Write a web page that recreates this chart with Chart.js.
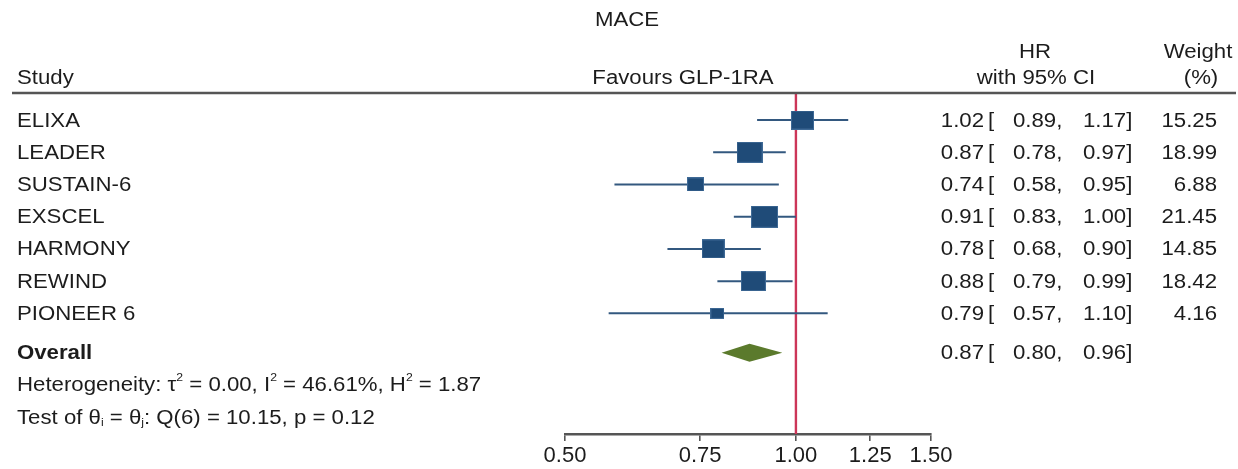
<!DOCTYPE html>
<html>
<head>
<meta charset="utf-8">
<title>MACE forest plot</title>
<script src="https://cdn.jsdelivr.net/npm/chart.js@4.4.1/dist/chart.umd.min.js"></script>
<style>
  html, body { margin: 0; padding: 0; background: #ffffff; }
  #wrap { width: 1238px; height: 469px; position: relative; }
</style>
</head>
<body>
<div id="wrap"><canvas id="forest"></canvas></div>
<script>
// ---- data ----
const plotTitle = 'MACE';
const studies  = ['ELIXA', 'LEADER', 'SUSTAIN-6', 'EXSCEL', 'HARMONY', 'REWIND', 'PIONEER 6'];
const hr       = [1.02, 0.87, 0.74, 0.91, 0.78, 0.88, 0.79];
const ciLow    = [0.89, 0.78, 0.58, 0.83, 0.68, 0.79, 0.57];
const ciHigh   = [1.17, 0.97, 0.95, 1.00, 0.90, 0.99, 1.10];
const weights  = [15.25, 18.99, 6.88, 21.45, 14.85, 18.42, 4.16];
const overallHR   = 0.87;
const overallLow  = 0.80;
const overallHigh = 0.96;
const tau2 = 0.00, iSquared = 46.61, hSquared = 1.87;
const qStat = 10.15, qDf = 6, qP = 0.12;
const tickValues = [0.50, 0.75, 1.00, 1.25, 1.50];

// ---- layout / style ----
const FONT_FAMILY = '"Liberation Sans", Arial, Helvetica, sans-serif';
const FONT = '20px ' + FONT_FAMILY;
const FONT_BOLD = 'bold 20px ' + FONT_FAMILY;
const FONT_SMALL = '11px ' + FONT_FAMILY;
const TEXT_COLOR = '#1c1c1c';
const SX = 1.11;                    // horizontal text stretch
const SQUARE_COLOR = '#1f4b78';
const CI_COLOR = '#33587f';
const NULL_COLOR = '#cc3558';
const DIAMOND_COLOR = '#5b7a2c';
const AXIS_COLOR = '#555555';

const overallRow = studies.length + 0.22;
const hetRow = overallRow + 1;
const testRow = overallRow + 2;

const f2 = v => v.toFixed(2);

// square marker for each study, size growing with its weight
function weightMarker(w) {
  const width = Math.round(3.2 + 5.13 * Math.sqrt(w));
  const height = Math.round(width / 1.22);
  const c = document.createElement('canvas');
  c.width = width; c.height = height;
  const g = c.getContext('2d');
  g.fillStyle = '#3f6a96';
  g.fillRect(0, 0, width, height);
  g.fillStyle = SQUARE_COLOR;
  g.fillRect(1, 1, width - 2, height - 2);
  return c;
}
const markers = weights.map(weightMarker);

// CI whiskers, one line dataset per study
const ciDatasets = studies.map((s, i) => ({
  type: 'line',
  label: s + ' CI',
  data: [{ x: ciLow[i], y: i }, { x: ciHigh[i], y: i }],
  borderColor: CI_COLOR,
  borderWidth: 2,
  pointRadius: 0,
  fill: false,
  order: 2
}));

const squaresDataset = {
  type: 'scatter',
  label: 'HR',
  data: hr.map((v, i) => ({ x: v, y: i })),
  pointStyle: markers,
  pointRadius: 10,
  order: 0
};

const nullLine = {
  type: 'line',
  label: 'no effect',
  data: [{ x: 1, y: -0.84 }, { x: 1, y: 9.745 }],
  borderColor: NULL_COLOR,
  borderWidth: 2.4,
  pointRadius: 0,
  fill: false,
  order: 3
};

function drawText(ctx, s, x, y, align, font) {
  ctx.save();
  ctx.font = font || FONT;
  ctx.fillStyle = TEXT_COLOR;
  ctx.textAlign = align || 'left';
  ctx.textBaseline = 'middle';
  ctx.translate(x, y);
  ctx.scale(SX, 1);
  ctx.fillText(s, 0, 0);
  ctx.restore();
}

// text with super/subscript pieces, left aligned
function drawRich(ctx, parts, x, y) {
  let cx = x;
  parts.forEach(p => {
    const font = p.sup || p.sub ? FONT_SMALL : FONT;
    const dy = p.sup ? -8 : (p.sub ? 5 : 0);
    ctx.save();
    ctx.font = font;
    const w = ctx.measureText(p.t).width * SX;
    ctx.restore();
    drawText(ctx, p.t, cx, y + dy, 'left', font);
    cx += w;
  });
}

const forestText = {
  id: 'forestText',
  afterDatasetsDraw(chart) {
    const ctx = chart.ctx;
    const xs = chart.scales.x, ys = chart.scales.y;
    // overall diamond
    const yc = ys.getPixelForValue(overallRow);
    const half = 9;
    ctx.save();
    ctx.beginPath();
    ctx.moveTo(xs.getPixelForValue(overallLow), yc);
    ctx.lineTo(xs.getPixelForValue(overallHR), yc - half);
    ctx.lineTo(xs.getPixelForValue(overallHigh), yc);
    ctx.lineTo(xs.getPixelForValue(overallHR), yc + half);
    ctx.closePath();
    ctx.fillStyle = DIAMOND_COLOR;
    ctx.fill();
    ctx.restore();
  },
  afterDraw(chart) {
    const ctx = chart.ctx;
    const ys = chart.scales.y;
    const top = chart.chartArea.top;

    // headings
    drawText(ctx, plotTitle, 627, 20, 'center');
    drawText(ctx, 'HR', 1035, 52, 'center');
    drawText(ctx, 'Weight', 1198, 52, 'center');
    drawText(ctx, 'Study', 17, 78, 'left');
    drawText(ctx, 'Favours GLP-1RA', 683, 78, 'center');
    drawText(ctx, 'with 95% CI', 1036, 78, 'center');
    drawText(ctx, '(%)', 1201, 78, 'center');

    // separator under headings
    ctx.save();
    ctx.strokeStyle = AXIS_COLOR;
    ctx.lineWidth = 2.4;
    ctx.beginPath();
    ctx.moveTo(12, top);
    ctx.lineTo(1236, top);
    ctx.stroke();
    ctx.restore();

    const row = (y, label, h, lo, hi, w, bold) => {
      drawText(ctx, label, 17, y, 'left', bold ? FONT_BOLD : FONT);
      drawText(ctx, f2(h), 984, y, 'right');
      drawText(ctx, '[', 988, y, 'left');
      drawText(ctx, f2(lo) + ',', 1013, y, 'left');
      drawText(ctx, f2(hi) + ']', 1083, y, 'left');
      if (w !== null) drawText(ctx, f2(w), 1217, y, 'right');
    };
    studies.forEach((s, i) => {
      row(ys.getPixelForValue(i) + 1, s, hr[i], ciLow[i], ciHigh[i], weights[i], false);
    });
    row(ys.getPixelForValue(overallRow) + 1, 'Overall', overallHR, overallLow, overallHigh, null, true);

    drawRich(ctx, [
      { t: 'Heterogeneity: \u03c4' }, { t: '2', sup: true },
      { t: ' = ' + f2(tau2) + ', I' }, { t: '2', sup: true },
      { t: ' = ' + f2(iSquared) + '%, H' }, { t: '2', sup: true },
      { t: ' = ' + f2(hSquared) }
    ], 17, ys.getPixelForValue(hetRow) + 1);
    drawRich(ctx, [
      { t: 'Test of \u03b8' }, { t: 'i', sub: true },
      { t: ' = \u03b8' }, { t: 'j', sub: true },
      { t: ': Q(' + qDf + ') = ' + f2(qStat) + ', p = ' + f2(qP) }
    ], 17, ys.getPixelForValue(testRow) + 1);
  }
};

new Chart(document.getElementById('forest'), {
  data: { datasets: [squaresDataset, ...ciDatasets, nullLine] },
  options: {
    responsive: true,
    maintainAspectRatio: false,
    animation: false,
    events: [],
    layout: { padding: { left: 565, right: 307, top: 93, bottom: 0 } },
    plugins: { legend: { display: false }, tooltip: { enabled: false } },
    scales: {
      x: {
        type: 'logarithmic',
        position: 'bottom',
        min: 0.5,
        max: 1.5,
        bounds: 'data',
        afterBuildTicks: s => { s.ticks = tickValues.map(v => ({ value: v })); },
        afterFit: s => { s.height = 35; },
        grid: {
          display: true,
          drawOnChartArea: false,
          drawTicks: true,
          tickLength: 7,
          color: AXIS_COLOR,
          lineWidth: 1.6
        },
        border: { display: true, color: AXIS_COLOR, width: 2.4 },
        ticks: {
          autoSkip: false,
          maxRotation: 0,
          padding: 2,
          color: TEXT_COLOR,
          font: { family: FONT_FAMILY, size: 22 },
          callback: v => Number(v).toFixed(2)
        }
      },
      y: {
        type: 'linear',
        display: false,
        reverse: true,
        min: -0.84,
        max: 9.745
      }
    }
  },
  plugins: [forestText]
});
</script>
</body>
</html>
